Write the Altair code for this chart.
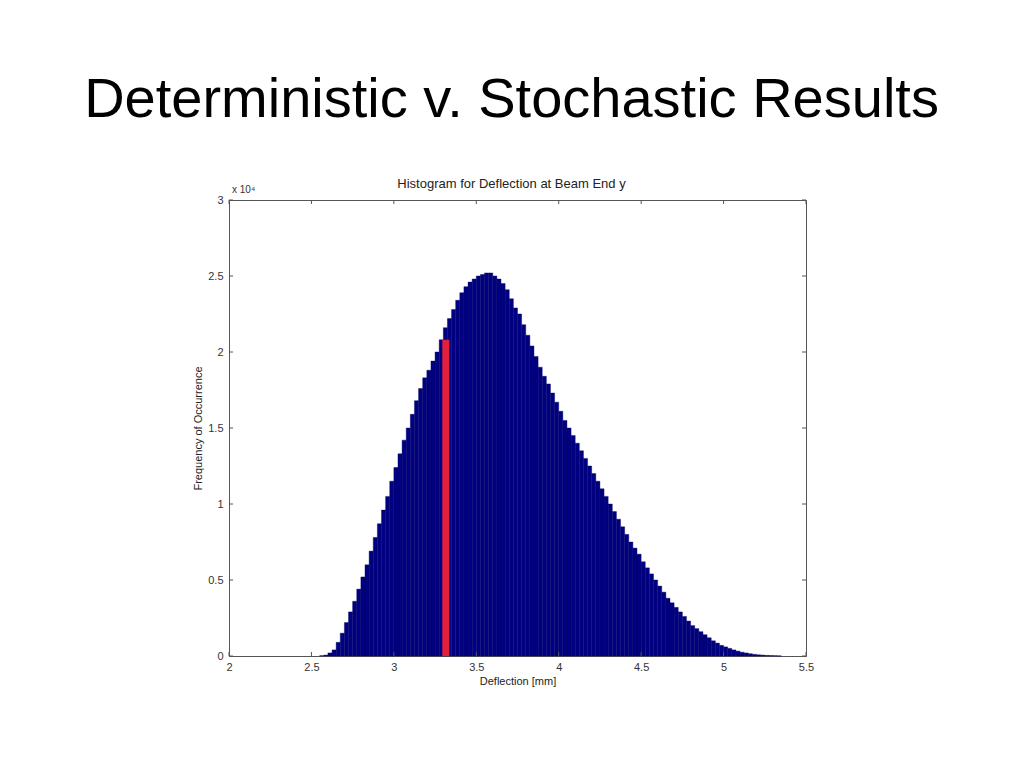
import altair as alt
import pandas as pd

# ---- data ----
bin_start = 2.55
bin_width = 0.025
counts = [  # frequency per bin (counts)
    20, 60, 200, 400, 900, 1500, 2200, 2900, 3600, 4400,
    5200, 6000, 6900, 7800, 8700, 9600, 10500, 11500, 12400, 13300,
    14200, 15000, 15900, 16800, 17600, 18300, 18800, 19400, 20000, 20800,
    21600, 22200, 22800, 23400, 23900, 24300, 24600, 24800, 25000, 25100,
    25200, 25200, 25000, 24800, 24500, 24100, 23500, 22900, 22500, 21800,
    21100, 20400, 19700, 19000, 18400, 17900, 17300, 16700, 16100, 15500,
    15000, 14500, 14000, 13500, 13000, 12500, 12000, 11500, 11000, 10500,
    10000, 9500, 9000, 8500, 8000, 7500, 7100, 6700, 6200, 5800,
    5400, 5000, 4600, 4200, 3800, 3500, 3200, 2900, 2600, 2300,
    2000, 1800, 1600, 1400, 1200, 1000, 850, 700, 600, 500,
    400, 320, 250, 200, 150, 110, 80, 60, 40, 30,
    20, 10,
]
deterministic_x = [3.315]
deterministic_y = [20800]
x_ticks = [2, 2.5, 3, 3.5, 4, 4.5, 5, 5.5]
y_ticks = [0, 5000, 10000, 15000, 20000, 25000, 30000]

df = pd.DataFrame({
    "x0": [bin_start + i * bin_width for i in range(len(counts))],
    "x1": [bin_start + (i + 1) * bin_width for i in range(len(counts))],
    "count": counts,
})
det = pd.DataFrame({"x": deterministic_x, "y": deterministic_y})
xt = pd.DataFrame({"t": x_ticks})
yt = pd.DataFrame({"t": y_ticks})

W, H = 577, 456
FONT = "Liberation Sans"
AX = "#555555"

xscale = alt.Scale(domain=[2, 5.5], nice=False, zero=False)
yscale = alt.Scale(domain=[0, 30000], nice=False)

bars = alt.Chart(df).mark_bar(color="#000080", stroke="#000066", strokeWidth=0.4).encode(
    x=alt.X("x0:Q", scale=xscale, title="Deflection [mm]",
            axis=alt.Axis(values=x_ticks, ticks=False, grid=False, labelPadding=5,
                          titlePadding=3, labelExpr="'' + datum.value", labelFlush=False)),
    x2="x1:Q",
    y=alt.Y("count:Q", scale=yscale, title="Frequency of Occurrence",
            axis=alt.Axis(values=y_ticks, ticks=False, grid=False, labelPadding=6,
                          titlePadding=4, labelExpr="'' + (datum.value / 10000)")),
    y2=alt.datum(0),
)

red = alt.Chart(det).mark_rule(color="#e0203c", strokeWidth=7).encode(
    x=alt.X("x:Q", scale=xscale),
    y=alt.Y("y:Q", scale=yscale),
    y2=alt.datum(0),
)

tick_style = dict(color=AX, strokeWidth=1)
bt = alt.Chart(xt).mark_rule(**tick_style).encode(
    x=alt.X("t:Q", scale=xscale), y=alt.value(H), y2=alt.value(H - 4))
tt = alt.Chart(xt).mark_rule(**tick_style).encode(
    x=alt.X("t:Q", scale=xscale), y=alt.value(0), y2=alt.value(4))
lt = alt.Chart(yt).mark_rule(**tick_style).encode(
    y=alt.Y("t:Q", scale=yscale), x=alt.value(0), x2=alt.value(4))
rt = alt.Chart(yt).mark_rule(**tick_style).encode(
    y=alt.Y("t:Q", scale=yscale), x=alt.value(W), x2=alt.value(W - 4))

exp_txt = alt.Chart(pd.DataFrame({"s": ["x 10\u2074"]})).mark_text(
    font=FONT, fontSize=10, align="left", baseline="bottom", color="#333333"
).encode(text="s:N", x=alt.value(3), y=alt.value(-5))

chart = alt.layer(bars, red, bt, tt, lt, rt, exp_txt).properties(
    width=W, height=H,
    autosize=alt.AutoSizeParams(type="none"),
    padding={"left": 221, "top": 192, "right": 200, "bottom": 90},
    title=alt.TitleParams(
        text="Deterministic v. Stochastic Results",
        subtitle="Histogram for Deflection at Beam End y",
        font=FONT, fontSize=56, fontWeight="normal", color="#000000",
        subtitleFont=FONT, subtitleFontSize=13, subtitleColor="#222222",
        subtitlePadding=49, anchor="middle", offset=-7, dx=-6,
    ),
).configure_view(stroke=AX, strokeWidth=1).configure_axis(
    labelFont=FONT, labelFontSize=11, labelColor="#333333",
    titleFont=FONT, titleFontSize=11, titleFontWeight="normal", titleColor="#222222",
    domainColor=AX,
)

chart.save("out.html", embed_options={"renderer": "svg", "actions": False})
